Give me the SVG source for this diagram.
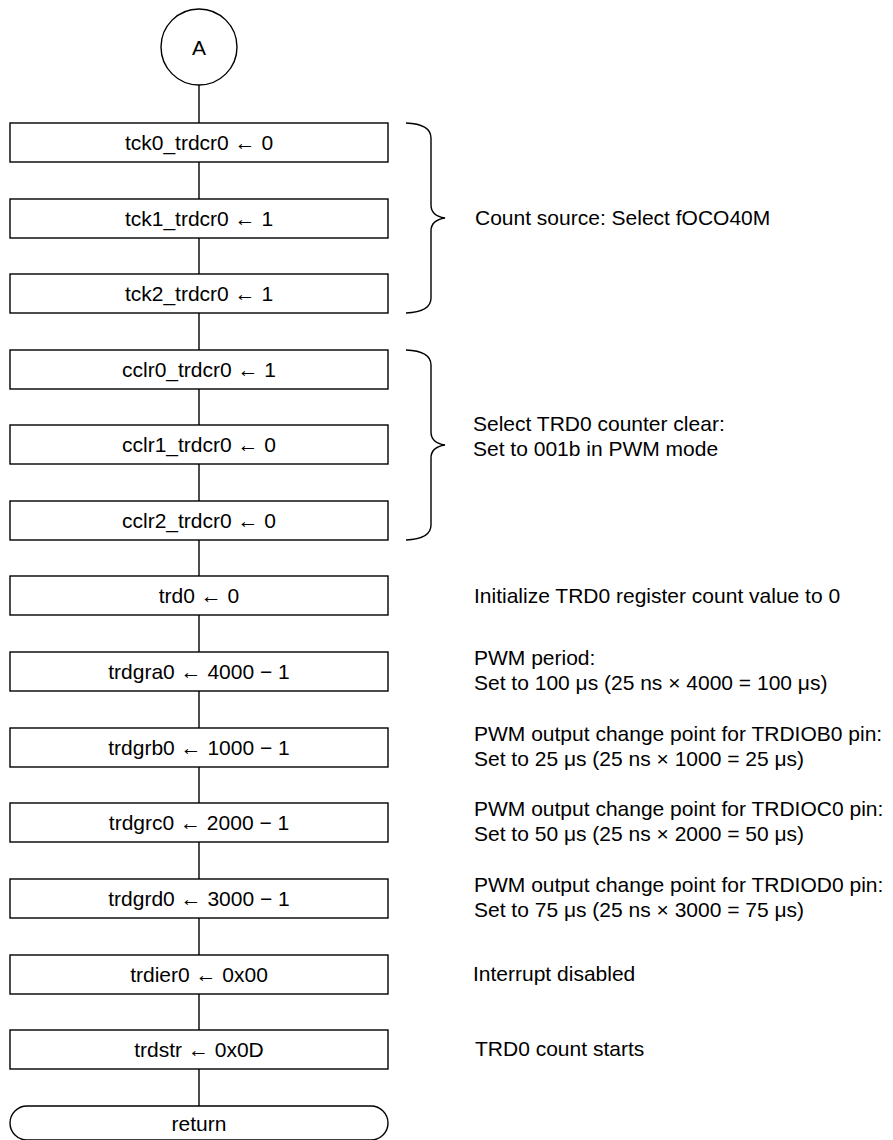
<svg xmlns="http://www.w3.org/2000/svg" width="893" height="1140" viewBox="0 0 893 1140">
<style>
.s{fill:#fff;stroke:#000;stroke-width:1.4}
.c{fill:none;stroke:#000;stroke-width:1.4}
text{font-family:"Liberation Sans",Arial,sans-serif;font-size:21px;fill:#000}
.m{text-anchor:middle}
</style>
<rect width="893" height="1140" fill="#fff"/>
<g id="connectors">
<line class="c" x1="199" y1="85" x2="199" y2="1106"/>
</g>
<g id="nodeA"><circle class="s" cx="199" cy="47" r="38"/><text class="m" x="199" y="55">A</text></g>
<g id="n1"><rect class="s" x="10" y="123" width="378" height="39"/><text class="m" x="199" y="150">tck0_trdcr0 ← 0</text></g>
<g id="n2"><rect class="s" x="10" y="199" width="378" height="39"/><text class="m" x="199" y="226">tck1_trdcr0 ← 1</text></g>
<g id="n3"><rect class="s" x="10" y="274" width="378" height="39"/><text class="m" x="199" y="301">tck2_trdcr0 ← 1</text></g>
<g id="n4"><rect class="s" x="10" y="350" width="378" height="39"/><text class="m" x="199" y="377">cclr0_trdcr0 ← 1</text></g>
<g id="n5"><rect class="s" x="10" y="425" width="378" height="39"/><text class="m" x="199" y="452">cclr1_trdcr0 ← 0</text></g>
<g id="n6"><rect class="s" x="10" y="501" width="378" height="39"/><text class="m" x="199" y="528">cclr2_trdcr0 ← 0</text></g>
<g id="n7"><rect class="s" x="10" y="576" width="378" height="39"/><text class="m" x="199" y="603">trd0 ← 0</text></g>
<g id="n8"><rect class="s" x="10" y="652" width="378" height="39"/><text class="m" x="199" y="679">trdgra0 ← 4000 − 1</text></g>
<g id="n9"><rect class="s" x="10" y="728" width="378" height="39"/><text class="m" x="199" y="755">trdgrb0 ← 1000 − 1</text></g>
<g id="n10"><rect class="s" x="10" y="803" width="378" height="39"/><text class="m" x="199" y="830">trdgrc0 ← 2000 − 1</text></g>
<g id="n11"><rect class="s" x="10" y="879" width="378" height="39"/><text class="m" x="199" y="906">trdgrd0 ← 3000 − 1</text></g>
<g id="n12"><rect class="s" x="10" y="955" width="378" height="39"/><text class="m" x="199" y="982">trdier0 ← 0x00</text></g>
<g id="n13"><rect class="s" x="10" y="1030" width="378" height="39"/><text class="m" x="199" y="1057">trdstr ← 0x0D</text></g>
<g id="return"><rect class="s" x="10" y="1106" width="378" height="34" rx="17"/><text class="m" x="199" y="1131">return</text></g>
<g id="brace1"><path class="c" d="M406,123 Q431,124 431,138 L431,205 Q431,216 445,218 Q431,220 431,231 L431,298 Q431,312 406,313"/></g>
<g id="brace2"><path class="c" d="M406,350 Q431,351 431,365 L431,432 Q431,443 445,445 Q431,447 431,458 L431,525 Q431,539 406,540"/></g>
<g id="notes">
<text x="475" y="225">Count source: Select fOCO40M</text>
<text x="473" y="431">Select TRD0 counter clear:</text>
<text x="473" y="456">Set to 001b in PWM mode</text>
<text x="474" y="603">Initialize TRD0 register count value to 0</text>
<text x="474" y="665">PWM period:</text>
<text x="474" y="690">Set to 100 μs (25 ns × 4000 = 100 μs)</text>
<text x="474" y="741">PWM output change point for TRDIOB0 pin:</text>
<text x="474" y="766">Set to 25 μs (25 ns × 1000 = 25 μs)</text>
<text x="474" y="816">PWM output change point for TRDIOC0 pin:</text>
<text x="474" y="841">Set to 50 μs (25 ns × 2000 = 50 μs)</text>
<text x="474" y="892">PWM output change point for TRDIOD0 pin:</text>
<text x="474" y="917">Set to 75 μs (25 ns × 3000 = 75 μs)</text>
<text x="473" y="981">Interrupt disabled</text>
<text x="475" y="1056">TRD0 count starts</text>
</g>
</svg>
